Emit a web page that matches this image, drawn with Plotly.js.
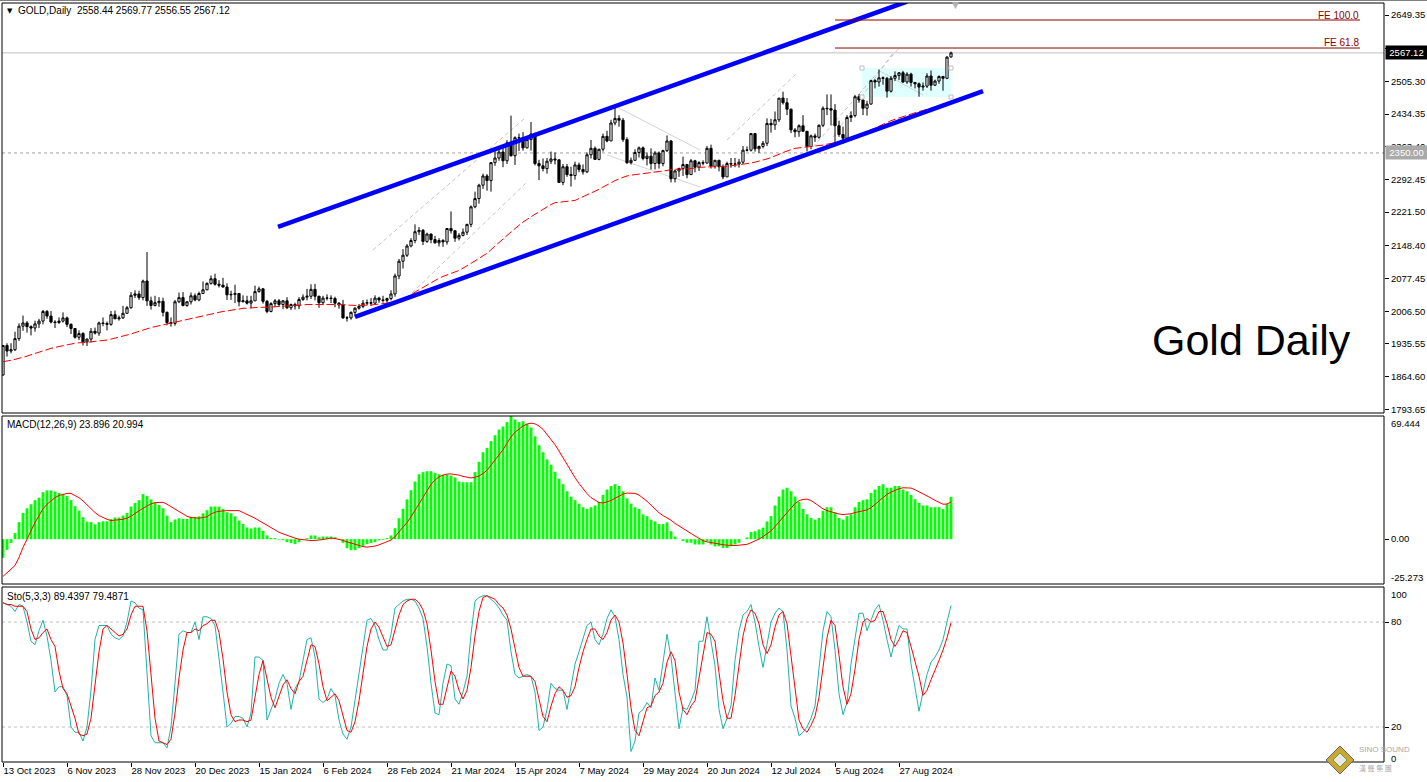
<!DOCTYPE html>
<html><head><meta charset="utf-8">
<script src="https://cdn.plot.ly/plotly-3.0.1.min.js"></script>
<style>html,body{margin:0;padding:0;background:#fff;}#chart{width:1427px;height:782px;}</style>
</head><body><div id="chart"></div>
<script>
// ---------- DATA ----------
const dateLabels = ["13 Oct 2023","6 Nov 2023","28 Nov 2023","20 Dec 2023","15 Jan 2024","6 Feb 2024","28 Feb 2024","21 Mar 2024","15 Apr 2024","7 May 2024","29 May 2024","20 Jun 2024","12 Jul 2024","5 Aug 2024","27 Aug 2024"];
const dateBarIndex = [0,16,32,48,64,80,96,112,128,144,160,176,192,208,224];
const priceTicks = [2649.35,2576.35,2505.30,2434.35,2363.40,2292.45,2221.50,2148.40,2077.45,2006.50,1935.55,1864.60,1793.65];

const open = [1868,1932,1920,1923,1947,1974,1981,1973,1970,1979,
1985,2006,1996,1983,1982,1985,1992,1978,1969,1950,
1958,1940,1946,1963,1959,1981,1980,1978,1999,1990,
1992,2002,2014,2041,2044,2036,2072,2029,2019,2025,
2028,2004,1982,1980,2027,2036,2019,2027,2040,2031,
2045,2053,2067,2077,2065,2063,2059,2042,2043,2045,
2027,2029,2024,2029,2049,2055,2028,2006,2023,2029,
2021,2029,2014,2021,2018,2032,2037,2039,2054,2039,
2025,2035,2035,2034,2024,2020,1992,1992,2004,2013,
2017,2024,2025,2024,2035,2031,2030,2034,2044,2083,
2115,2128,2148,2160,2179,2182,2158,2174,2162,2155,
2160,2157,2186,2181,2165,2171,2178,2195,2233,2251,
2280,2300,2290,2329,2339,2352,2333,2372,2344,2383,
2383,2361,2379,2391,2327,2322,2316,2332,2337,2335,
2286,2320,2303,2301,2324,2314,2309,2346,2360,2336,
2358,2386,2376,2415,2425,2421,2379,2329,2334,2351,
2361,2338,2343,2327,2350,2327,2355,2376,2294,2311,
2316,2325,2303,2333,2319,2329,2328,2360,2321,2334,
2320,2298,2327,2326,2326,2330,2356,2356,2392,2359,
2364,2371,2414,2411,2422,2469,2459,2445,2400,2396,
2409,2397,2364,2387,2384,2410,2447,2446,2443,2409,
2390,2382,2427,2431,2472,2465,2447,2456,2507,2504,
2513,2512,2484,2512,2518,2524,2504,2521,2503,2500,
2493,2495,2517,2497,2506,2516,2512,2558.44];
const high = [1933,1937,1937,1962,1980,1997,1985,1976,1986,1990,
2009,2009,2007,1987,1993,2004,1995,1980,1970,1965,
1961,1947,1970,1971,1984,1993,1984,2007,2008,1997,
2018,2018,2048,2052,2051,2075,2135,2038,2040,2037,
2036,2006,1993,2031,2047,2048,2028,2047,2045,2049,
2071,2069,2084,2088,2074,2079,2067,2051,2064,2046,
2041,2040,2040,2062,2060,2057,2031,2026,2033,2033,
2031,2037,2023,2025,2037,2043,2055,2065,2066,2040,
2040,2043,2041,2038,2026,2031,1996,2006,2015,2022,
2031,2032,2035,2041,2038,2040,2036,2052,2088,2120,
2141,2152,2165,2195,2189,2185,2177,2175,2170,2165,
2163,2187,2223,2183,2176,2186,2196,2236,2266,2283,
2305,2304,2330,2354,2365,2362,2378,2431,2386,2392,
2395,2385,2417,2394,2335,2338,2339,2353,2351,2336,
2326,2326,2320,2331,2329,2325,2351,2378,2364,2359,
2392,2398,2422,2450,2432,2426,2384,2340,2358,2364,
2364,2351,2360,2354,2353,2357,2388,2378,2314,2318,
2342,2326,2337,2335,2332,2334,2365,2368,2335,2335,
2325,2331,2339,2339,2337,2365,2364,2392,2393,2366,
2376,2425,2424,2440,2469,2483,2469,2446,2404,2412,
2432,2397,2390,2392,2412,2451,2477,2477,2456,2420,
2407,2432,2440,2476,2478,2473,2463,2509,2510,2531,
2516,2515,2517,2527,2525,2528,2525,2524,2504,2503,
2503,2523,2529,2509,2518,2517,2560,2569.77];
const low = [1867,1908,1915,1920,1942,1964,1960,1954,1962,1970,
1978,1990,1980,1970,1979,1982,1972,1957,1947,1944,
1932,1931,1939,1956,1953,1974,1965,1975,1990,1986,
1990,2001,2012,2035,2031,2030,2018,2010,2017,2016,
1995,1976,1973,1975,2024,2017,2016,2021,2028,2028,
2044,2052,2064,2062,2058,2058,2031,2031,2024,2017,
2026,2021,2013,2029,2047,2023,2002,2004,2016,2016,
2011,2011,2009,2010,2011,2029,2030,2033,2030,2014,
2020,2030,2024,2015,2012,1990,1984,1988,1995,2010,
2013,2020,2018,2020,2025,2025,2024,2030,2038,2076,
2099,2124,2145,2154,2172,2150,2155,2154,2153,2147,
2146,2151,2175,2157,2160,2169,2172,2189,2230,2240,
2272,2268,2266,2322,2333,2319,2326,2342,2324,2354,
2355,2360,2355,2323,2291,2310,2305,2326,2325,2285,
2280,2298,2277,2292,2308,2303,2306,2338,2335,2334,
2353,2373,2376,2410,2407,2374,2326,2325,2333,2340,
2334,2323,2314,2314,2316,2321,2352,2286,2286,2298,
2300,2295,2302,2308,2311,2323,2327,2316,2316,2310,
2293,2298,2318,2319,2318,2326,2353,2353,2353,2350,
2360,2365,2394,2400,2417,2455,2432,2393,2384,2385,
2397,2353,2358,2374,2381,2406,2432,2410,2364,2385,
2370,2380,2417,2427,2459,2432,2431,2455,2490,2494,
2498,2470,2481,2506,2508,2502,2500,2494,2490,2472,
2485,2491,2485,2495,2500,2485,2510,2556.55];
const close = [1932,1920,1923,1947,1974,1981,1973,1970,1979,1985,
2006,1996,1983,1982,1985,1992,1978,1969,1950,1958,
1940,1946,1963,1959,1981,1980,1978,1999,1990,1992,
2002,2014,2041,2044,2036,2072,2029,2019,2025,2028,
2004,1982,1980,2027,2036,2019,2027,2040,2031,2045,
2053,2067,2077,2065,2063,2059,2042,2043,2045,2027,
2029,2024,2029,2049,2055,2028,2006,2023,2029,2021,
2029,2014,2021,2018,2032,2037,2039,2054,2039,2025,
2035,2035,2034,2024,2020,1992,1992,2004,2013,2017,
2024,2025,2024,2035,2031,2030,2034,2044,2083,2115,
2128,2148,2160,2179,2182,2158,2174,2162,2155,2160,
2157,2186,2181,2165,2171,2178,2195,2233,2251,2280,
2300,2290,2329,2339,2352,2333,2372,2344,2383,2383,
2361,2379,2391,2327,2322,2316,2332,2337,2335,2286,
2320,2303,2301,2324,2314,2309,2346,2360,2336,2358,
2386,2376,2415,2425,2421,2379,2329,2334,2351,2361,
2338,2343,2327,2350,2327,2355,2376,2294,2311,2316,
2325,2303,2333,2319,2329,2328,2360,2321,2334,2320,
2298,2327,2326,2326,2330,2356,2356,2392,2359,2364,
2371,2414,2411,2422,2469,2459,2445,2400,2396,2409,
2397,2364,2387,2384,2410,2447,2446,2443,2409,2390,
2382,2427,2431,2472,2465,2447,2456,2507,2504,2513,
2512,2484,2512,2518,2524,2504,2521,2503,2500,2493,
2495,2517,2497,2506,2516,2512,2558,2567.12];
const movingAvg = [1897,1898,1900,1902,1904,1906,1909,1912,1915,1918,
1920,1923,1926,1928,1930,1932,1934,1935,1937,1938,
1938,1939,1940,1941,1941,1943,1944,1946,1948,1950,
1952,1955,1957,1960,1963,1966,1969,1971,1973,1975,
1977,1978,1980,1982,1984,1986,1988,1990,1992,1994,
1996,1998,2000,2002,2004,2006,2007,2009,2010,2011,
2013,2013,2014,2014,2015,2015,2015,2016,2016,2017,
2017,2018,2019,2019,2020,2020,2021,2021,2022,2022,
2022,2022,2022,2022,2022,2021,2020,2019,2019,2019,
2019,2020,2020,2021,2022,2022,2023,2024,2026,2029,
2033,2037,2042,2048,2053,2058,2063,2068,2074,2078,
2082,2085,2088,2092,2095,2100,2105,2111,2116,2121,
2127,2132,2140,2147,2155,2163,2171,2179,2186,2193,
2200,2206,2212,2217,2222,2228,2233,2238,2242,2243,
2244,2245,2246,2247,2251,2255,2258,2262,2267,2271,
2276,2280,2285,2290,2294,2297,2300,2302,2303,2304,
2305,2306,2307,2308,2309,2311,2312,2314,2315,2315,
2315,2315,2316,2317,2319,2319,2320,2320,2320,2321,
2321,2321,2322,2323,2324,2325,2327,2328,2330,2332,
2334,2337,2340,2343,2347,2351,2354,2357,2360,2361,
2362,2363,2364,2364,2365,2367,2369,2371,2372,2374,
2375,2377,2380,2384,2388,2392,2396,2401,2405,2409,
2413,2417,2420,2423,2426,2429,2432,2435,2437,2440,
2442,2445,2447,2449,2451,2453,2455,2457];
const macdMain = [-10.5,-6.0,-2.1,3.4,9.6,14.8,17.4,19.7,22.0,23.4,
26.5,27.5,27.5,26.9,26.0,25.5,24.3,22.0,18.6,16.1,
12.4,9.9,9.6,8.4,9.6,10.1,10.1,11.4,12.2,12.2,
13.3,14.8,18.4,20.4,22.0,25.4,24.3,22.4,20.8,19.3,
17.4,13.3,9.6,11.1,11.8,11.4,11.4,12.6,12.6,12.9,
14.6,16.3,18.4,18.4,18.4,17.1,15.2,14.6,12.9,10.5,
8.6,6.6,6.0,6.6,6.6,4.7,2.1,0.7,0.6,-0.3,
-0.6,-1.7,-2.2,-2.8,-1.7,-0.2,0.6,2.1,2.1,1.1,
1.5,1.5,1.5,1.1,0.2,-2.1,-5.1,-6.2,-6.2,-5.1,
-3.9,-2.8,-2.1,-1.7,-0.7,-0.4,0.6,2.1,6.2,11.8,
17.1,22.4,27.6,32.5,36.6,37.8,38.3,38.3,37.4,36.6,
36.3,36.3,35.9,34.8,32.5,32.1,32.1,32.1,37.8,43.6,
49.0,51.5,55.3,58.6,61.8,63.5,66,69.444,67.5,66,
66.5,65,63,58,53,49,45,42,38,34,
31,27,24,22,20,18,17,18,19,21,
25,28,30,31,30,27,23,20,18,17,
14,13,11,10,8.5,8.5,9.5,4.5,1.5,0,
-1,-2,-2,-3,-3,-3,-1,-3,-4,-4,
-5,-5,-4,-3,-2,0,1,4,4.5,5.5,
6.5,10,13,19,24,28,29,27,24,21,
17,14,12,11,12,16,18,18,15,12,
11,13,14,18,21,22,22.5,26,28,30,
31,29,29,30,30,28,27,25,22.5,20.5,
19,19,18,18,18,17,20,23.896];
const macdSignal = [-21,-18.7,-16.9,-14.8,-10.3,-4.7,-0.4,4.7,9.4,13.6,
17.1,19.7,21.6,23.4,24.6,25.4,25.8,25.8,24.8,23.4,
21.6,19.2,17.3,15.0,13.3,12.2,11.2,10.5,10.6,10.8,
11.2,11.8,12.9,14.5,16.1,17.4,18.7,19.9,20.6,20.8,
20.8,19.7,18.3,16.7,15.5,14.1,12.9,12.2,11.8,11.8,
12.2,12.6,14.2,15.2,15.7,16.1,16.1,16.1,16.1,16.1,
15.0,14.1,12.9,11.8,10.5,9.2,7.7,6.6,5.4,3.9,
3.0,2.2,1.1,0.6,0,-0.4,-0.7,-0.8,-0.7,-0.6,
-0.2,0.2,0.6,0.4,0,-0.7,-1.5,-2.2,-3.2,-3.7,
-4.2,-4.5,-4.3,-3.9,-3.2,-2.3,-1.4,-0.5,1.4,3.9,
6.6,9.4,12.6,16.4,20.1,23.9,27.6,30.9,33.3,35.1,
36.1,36.7,36.8,36.5,36.1,35.4,34.9,34.5,34.9,35.6,
37.0,38.9,41.7,44.5,47.3,50.4,54.1,57.6,60.3,62.2,
63.8,64.9,65.4,65.0,63.8,61.9,59.2,56.4,53.3,49.7,
45.9,41.9,38.1,34.7,31.4,28.4,25.7,23.4,21.8,20.7,
20.4,20.9,21.8,23,24.3,25.4,26,26.1,25.8,24.9,
23.3,21.4,19.2,17,14.9,13.3,12.2,10.7,8.9,7.4,
5.8,4.4,3.1,1.8,0.5,-0.9,-1.5,-2,-2.4,-2.8,
-3.1,-3.4,-3.6,-3.6,-3.4,-3.3,-2.9,-2,-1.1,0.1,
1.4,2.9,4.7,7.1,9.7,12.7,15.5,18,20.1,21.7,
22.4,22.6,21.8,20.3,18.6,17.1,16.1,15.4,14.8,14.2,
13.9,14,14.3,15,15.6,16,16.5,17.7,19.5,21.6,
23.6,25.3,26.5,27.5,28.4,29,29.1,28.8,27.9,26.8,
25.7,24.6,23.2,21.9,20.8,19.7,19.8,20.994];
const stochK = [91,90,89,86,90,89,80,69,67,75,
81,72,58,40,43,43,38,20,17,17,
12,20,41,70,78,78,78,73,71,70,
72,80,92,91,88,87,50,15,11,11,
11,8,20,45,73,75,74,74,80,70,
83,83,82,78,60,40,20,22,26,26,
25,20,28,60,60,58,24,30,36,45,
50,45,30,42,46,58,70,71,60,36,
34,36,42,38,24,16,13,20,35,50,
66,81,82,78,70,64,64,73,88,90,
92,93,93,92,88,82,66,45,28,27,
45,56,55,36,33,40,49,73,92,94,
95,95,93,91,88,84,81,63,50,48,
49,50,49,40,18,20,30,45,42,41,
41,30,43,56,63,70,78,80,70,67,
73,82,87,83,70,50,37,6,12,28,
30,34,31,48,41,57,73,60,40,19,
31,30,35,41,69,69,83,68,55,30,
19,25,32,58,75,84,86,90,80,66,
54,67,80,85,88,86,64,32,25,15,
17,20,25,32,53,75,86,83,64,39,
27,34,56,70,85,85,75,81,87,90,
81,70,60,70,78,76,76,56,42,29,
40,50,57,60,64,70,80,89.4397];
const stochD = [91,90,90,89,89,89,86,76,70,71,
74,76,70,66,52,42,39,32,25,16,
15,16,25,44,63,76,78,76,74,72,
73,76,84,89,89,89,75,50,25,12,
11,10,13,28,48,64,74,74,76,75,
78,79,81,81,74,59,40,27,23,24,
24,23,24,36,50,58,48,37,31,37,
44,47,42,39,46,49,58,67,66,56,
43,35,37,39,35,27,18,17,23,35,
51,66,76,80,77,71,66,67,75,84,
90,92,93,93,91,87,79,64,46,33,
33,43,52,49,41,36,41,54,72,86,
94,95,94,93,90,88,84,76,65,54,
49,49,49,46,36,26,23,32,39,43,
41,37,38,43,54,63,70,76,76,72,
70,74,81,84,80,68,50,31,18,15,
23,31,32,38,40,45,57,63,58,40,
30,27,32,35,48,60,74,73,69,51,
35,25,25,38,55,72,82,87,85,79,
67,62,67,77,84,86,79,61,40,24,
19,17,21,26,37,53,71,81,78,61,
43,33,39,53,70,80,82,80,81,86,
86,79,70,66,70,75,74,66,57,49,
38,41,47,52,58,64,71,79.4871];
// drawing objects (bar index, price)
const channelUpperX = [68.75, 226];
const channelUpperY = [2189.3, 2678.6];
const channelLowerX = [88, 245];
const channelLowerY = [1994, 2484.4];
const fe100 = 2638.5, fe618 = 2577.7;
const feStart = 208, feEnd = 339.25;
const boxX = [214.75, 237], boxY = [2471.4, 2534.3];
const lastPrice = 2567.12, levelPrice = 2350.00;
// faint grey helper lines: [x0, y0, x1, y1, dashed]
const helperLines = [
  [92.5, 2139.4, 130.5, 2425.8, true],
  [102.25, 2046.0, 131, 2286.9, true],
  [153.5, 2449.7, 174.25, 2356.4, false],
  [151, 2345.5, 174.25, 2276.1, false],
  [181, 2378.1, 198.5, 2523.5, true],
  [202.5, 2362.9, 224.25, 2579.9, true],
  [207.5, 2384.6, 222.5, 2566.9, true],
  [218.75, 2530.0, 230, 2475.7, false]
];

// ---------- LAYOUT HELPERS ----------
const W = 1427, H = 782, ML = 2, MR = 43, MT = 3, MB = 20;
const PW = W - ML - MR, PH = H - MT - MB;
const px = x => (x - ML) / PW;
const py = y => (H - MB - y) / PH;
const FONT = "Liberation Sans, Arial, sans-serif";
const idx = close.map((_, i) => i);

const traces = [
  {type:'candlestick', x: idx, open, high, low, close, xaxis:'x', yaxis:'y',
   increasing:{line:{color:'#000', width:1}, fillcolor:'#fff'},
   decreasing:{line:{color:'#000', width:1}, fillcolor:'#000'},
   whiskerwidth:0, hoverinfo:'skip', showlegend:false},
  {type:'scatter', mode:'lines', x: idx, y: movingAvg, xaxis:'x', yaxis:'y',
   line:{color:'#ff0000', width:1, dash:'8px,3px'}, hoverinfo:'skip', showlegend:false},
  {type:'scatter', mode:'lines', x: channelUpperX, y: channelUpperY, xaxis:'x', yaxis:'y',
   line:{color:'#0000ff', width:4.5}, hoverinfo:'skip', showlegend:false},
  {type:'scatter', mode:'lines', x: channelLowerX, y: channelLowerY, xaxis:'x', yaxis:'y',
   line:{color:'#0000ff', width:4.5}, hoverinfo:'skip', showlegend:false},
  {type:'bar', x: idx, y: macdMain, xaxis:'x', yaxis:'y2', width:0.7,
   marker:{color:'#00ff00', line:{width:0}}, hoverinfo:'skip', showlegend:false},
  {type:'scatter', mode:'lines', x: idx, y: macdSignal, xaxis:'x', yaxis:'y2',
   line:{color:'#ff0000', width:1}, hoverinfo:'skip', showlegend:false},
  {type:'scatter', mode:'lines', x: idx, y: stochK, xaxis:'x', yaxis:'y3',
   line:{color:'#20b2aa', width:1}, hoverinfo:'skip', showlegend:false},
  {type:'scatter', mode:'lines', x: idx, y: stochD, xaxis:'x', yaxis:'y3',
   line:{color:'#ff0000', width:1}, hoverinfo:'skip', showlegend:false}
];

const axisFont = {family: FONT, size: 9.5, color:'#000'};
const yBase = {side:'right', anchor:'x', showgrid:false, zeroline:false, showline:false,
  ticks:'outside', ticklen:4, tickcolor:'#000', tickfont: axisFont, fixedrange:true};

const handle = (x, y) => ({type:'rect', xref:'x', yref:'y', xsizemode:'pixel', ysizemode:'pixel',
  xanchor:x, yanchor:y, x0:-2, x1:2, y0:-2, y1:2, fillcolor:'#fff', line:{color:'#c0c0c0', width:1}});

const shapes = [
  // cyan rectangle
  {type:'rect', xref:'x', yref:'y', x0: boxX[0], x1: boxX[1], y0: boxY[0], y1: boxY[1],
   fillcolor:'#e0ffff', line:{width:0}, layer:'below'},
  // faint helper lines
  ...helperLines.map(l => ({type:'line', xref:'x', yref:'y', x0:l[0], y0:l[1], x1:l[2], y1:l[3],
     line:{color: l[4] ? '#c4c4c4' : '#d4d4d4', width:1, dash: l[4] ? '4px,3px' : 'solid'}, layer:'below'})),
  // level lines
  {type:'line', xref:'paper', yref:'y', x0:0, x1:1, y0:lastPrice, y1:lastPrice, line:{color:'#c0c0c0', width:1}, layer:'below'},
  {type:'line', xref:'paper', yref:'y', x0:0, x1:1, y0:levelPrice, y1:levelPrice, line:{color:'#a0a0a0', width:1, dash:'3px,3px'}, layer:'below'},
  {type:'line', xref:'x', yref:'y', x0:feStart, x1:feEnd, y0:fe100, y1:fe100, line:{color:'#8b0000', width:1}},
  {type:'line', xref:'x', yref:'y', x0:feStart, x1:feEnd, y0:fe618, y1:fe618, line:{color:'#8b0000', width:1}},
  // stochastic levels
  {type:'line', xref:'paper', yref:'y3', x0:0, x1:1, y0:80, y1:80, line:{color:'#c0c0c0', width:1, dash:'3px,3px'}, layer:'below'},
  {type:'line', xref:'paper', yref:'y3', x0:0, x1:1, y0:20, y1:20, line:{color:'#c0c0c0', width:1, dash:'3px,3px'}, layer:'below'},
  // panel borders
  {type:'rect', xref:'paper', yref:'paper', x0:0, x1:1, y0:py(413), y1:py(3), line:{color:'#000', width:1}},
  {type:'rect', xref:'paper', yref:'paper', x0:0, x1:1, y0:py(584), y1:py(416), line:{color:'#000', width:1}},
  {type:'rect', xref:'paper', yref:'paper', x0:0, x1:1, y0:py(762), y1:py(587), line:{color:'#000', width:1}},
  // window top edge
  {type:'line', xref:'paper', yref:'paper', x0:px(0), x1:px(1427), y0:py(0.5), y1:py(0.5), line:{color:'#808080', width:1}},
  // selection handles of the rectangle
  handle(boxX[0], boxY[1]), handle(boxX[1], boxY[1]), handle(boxX[1], boxY[0]), handle(boxX[0], boxY[0]),
  // logo diamond
  {type:'path', xref:'paper', yref:'paper',
   path:`M ${px(1340)} ${py(746)} L ${px(1354)} ${py(760)} L ${px(1340)} ${py(774)} L ${px(1326)} ${py(760)} Z`,
   fillcolor:'#c8a832', line:{color:'#666', width:1}},
  {type:'path', xref:'paper', yref:'paper',
   path:`M ${px(1340)} ${py(753)} L ${px(1347)} ${py(760)} L ${px(1340)} ${py(767)} L ${px(1333)} ${py(760)} Z`,
   fillcolor:'#e8e8e8', line:{color:'#7a9a40', width:1}}
];

const ann = (x, y, text, opts={}) => Object.assign({xref:'paper', yref:'paper', x:px(x), y:py(y), text,
  showarrow:false, xanchor:'left', yanchor:'middle', font:{family:FONT, size:10, color:'#000'}}, opts);

const annotations = [
  ann(5, 11, '▼', {font:{family:'DejaVu Sans', size:7, color:'#000'}}),
  ann(16, 11, 'GOLD,Daily  2558.44 2569.77 2556.55 2567.12'),
  ann(5, 424, 'MACD(12,26,9) 23.896 20.994'),
  ann(5, 596, 'Sto(5,3,3) 89.4397 79.4871'),
  ann(1361, 15, 'FE 100.0', {xanchor:'right', font:{family:FONT, size:10, color:'#8b0000'}}),
  ann(1361, 42, 'FE 61.8', {xanchor:'right', font:{family:FONT, size:10, color:'#8b0000'}}),
  ann(1251, 340, 'Gold Daily', {xanchor:'center', font:{family:FONT, size:43, color:'#000'}}),
  // price boxes on axis
  {xref:'paper', yref:'y', x:px(1385), y:lastPrice, text:'2567.12', showarrow:false, xanchor:'left', yanchor:'middle',
   bgcolor:'#000', borderpad:1, width:39, align:'center', font:{family:FONT, size:9.5, color:'#fff'}},
  {xref:'paper', yref:'y', x:px(1385), y:levelPrice, text:'2350.00', showarrow:false, xanchor:'left', yanchor:'middle',
   bgcolor:'#a9a9a9', borderpad:1, width:39, align:'center', font:{family:FONT, size:9.5, color:'#fff'}},
  // indicator axis labels clamped inside panels
  ann(1389, 423, '69.444', {font:axisFont}),
  ann(1389, 577, '-25.273', {font:axisFont}),
  ann(1389, 594, '100', {font:axisFont}),
  ann(1389, 758, '0', {font:axisFont}),
  ann(955, 5, '▼', {xanchor:'center', font:{family:'DejaVu Sans', size:9, color:'#b0b0b0'}}),
  // logo text
  ann(1357, 749, 'SINO SOUND', {font:{family:FONT, size:8, color:'#a8a8a8'}}),
  ann(1357, 768, '漢 聲 集 團', {font:{family:'Noto Sans CJK TC', size:7, color:'#a8a8a8'}})
];

const layout = {
  width: W, height: H, margin:{l:ML, r:MR, t:MT, b:MB, pad:0},
  paper_bgcolor:'#fff', plot_bgcolor:'#fff', showlegend:false,
  font:{family:FONT, size:10, color:'#000'},
  boxgap:0.45, boxgroupgap:0, bargap:0.3,
  xaxis:{anchor:'y3', domain:[0,1], range:[-0.25, 345.25], showgrid:false, zeroline:false, showline:false,
    ticks:'outside', ticklen:4, tickcolor:'#000', tickvals: dateBarIndex, ticktext: dateLabels,
    ticklabelposition:'outside right', tickfont: axisFont, rangeslider:{visible:false}, fixedrange:true},
  yaxis: Object.assign({}, yBase, {domain:[py(413), py(3)], range:[1785.6, 2675.4],
    tickvals: priceTicks, ticktext: priceTicks.map(v => v.toFixed(2))}),
  yaxis2: Object.assign({}, yBase, {domain:[py(584), py(416)], range:[-25.273, 69.444],
    tickvals:[0], ticktext:['0.00']}),
  yaxis3: Object.assign({}, yBase, {domain:[0, py(587)], range:[0, 100],
    tickvals:[80, 20], ticktext:['80','20']}),
  shapes, annotations
};

Plotly.newPlot('chart', traces, layout, {staticPlot:true, displayModeBar:false});
</script></body></html>
